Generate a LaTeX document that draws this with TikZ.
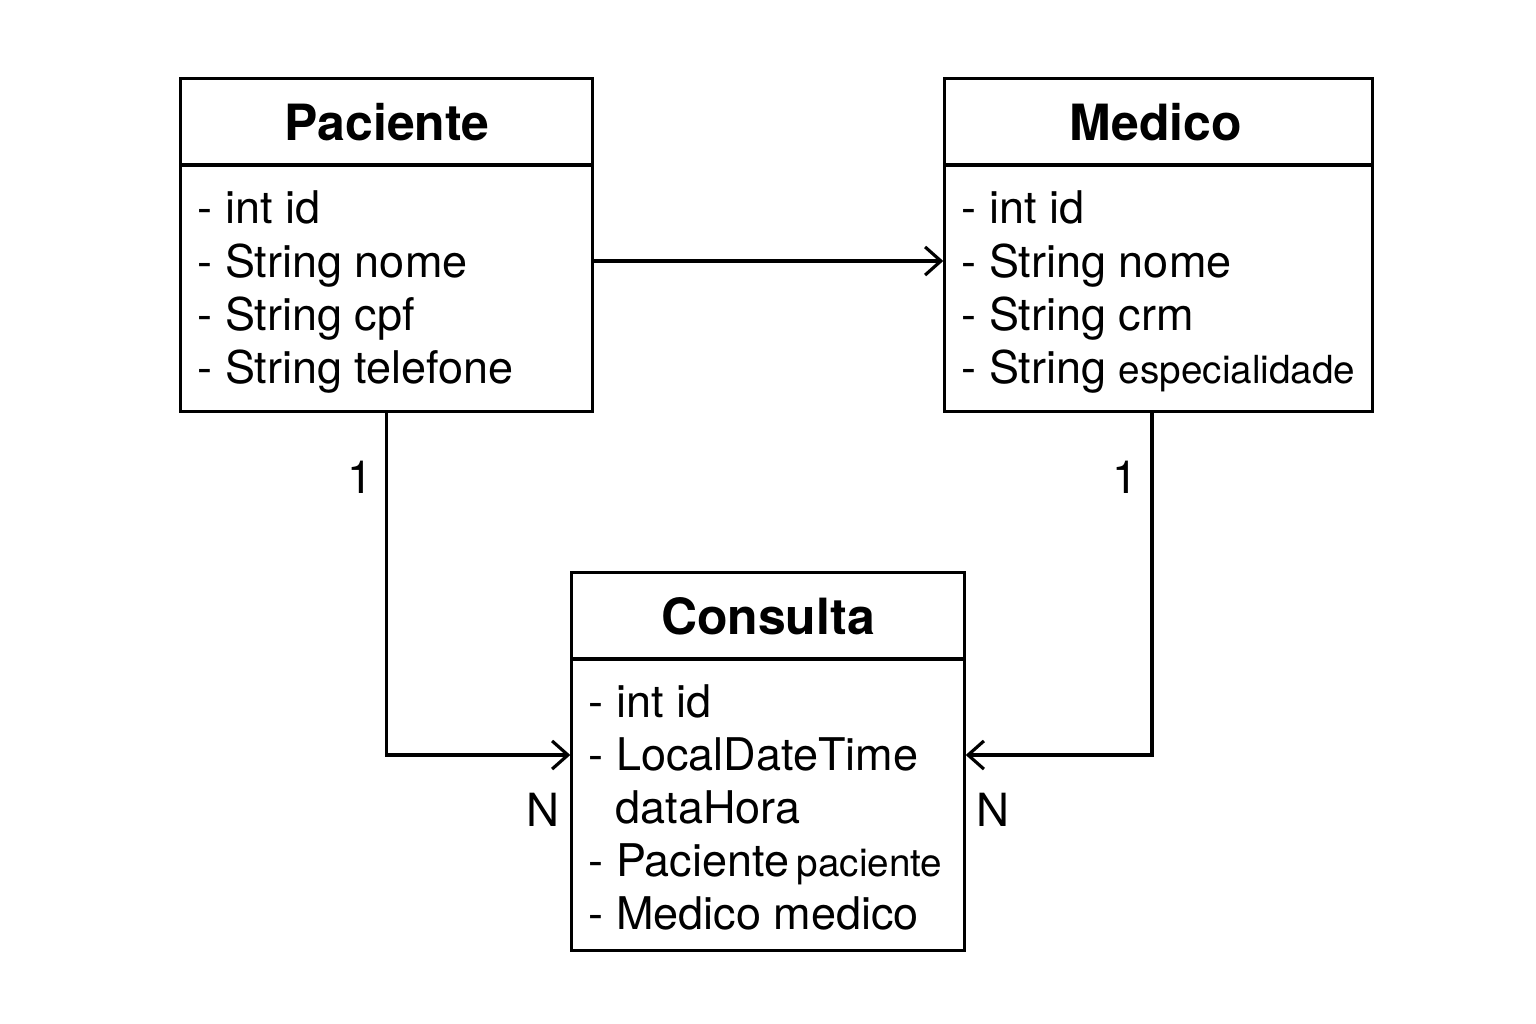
\documentclass[tikz,border=0pt]{standalone}
\usepackage{fontspec}
\setmainfont{TeX Gyre Heros}
\usetikzlibrary{arrows.meta}
\tikzset{
    classbox/.style={draw,line width=0.9pt,inner sep=0pt},
    title/.style={font=\fontsize{14.2}{17}\selectfont\bfseries,anchor=base},
    attr/.style={font=\fontsize{12.8}{15}\selectfont,anchor=base west,inner sep=0pt},
    mult/.style={font=\fontsize{13}{15}\selectfont,inner sep=0pt},
}
\newcommand{\smalltype}[1]{{\fontsize{11}{13}\selectfont #1}}
\begin{document}
\begin{tikzpicture}[x=0.01cm,y=-0.01cm,line width=0.9pt,>={Straight Barb[length=4.5pt,width=8pt]}]
        \useasboundingbox (0,0) rectangle (1536,1024);
        \begin{scope}
            \node[classbox,minimum width=4.11cm,minimum height=3.32cm] (pac) at (386.5,245) {};
            \node[classbox,minimum width=4.27cm,minimum height=3.32cm] (med) at (1158.5,245) {};
            \node[classbox,minimum width=3.92cm,minimum height=3.77cm] (con) at (768,761.5) {};
            \coordinate (h1) at (0,165);
            \coordinate (h2) at (0,659);
            \draw (pac.west |- h1) -- (pac.east |- h1);
            \draw (med.west |- h1) -- (med.east |- h1);
            \draw (con.west |- h2) -- (con.east |- h2);
        \end{scope}
        \begin{scope}
            \node[title] (pact) at (387,140) {Paciente};
            \node[title] (medt) at (1156,140) {Medico};
            \node[title] (cont) at (768,634) {Consulta};
        \end{scope}
        \begin{scope}
            \node[attr] (pac1) at (196,223) {- int id};
            \node[attr] (pac2) at (196,277) {- String nome};
            \node[attr] (pac3) at (196,330) {- String cpf};
            \node[attr] (pac4) at (196,383) {- String telefone};
            \node[attr] (med1) at (960,223) {- int id};
            \node[attr] (med2) at (960,277) {- String nome};
            \node[attr] (med3) at (960,330) {- String crm};
            \node[attr] (med4) at (960,383) {- String \smalltype{especialidade}};
            \node[attr] (con1) at (587,717) {- int id};
            \node[attr] (con2) at (587,770) {- LocalDateTime};
            \node[attr] (con3) at (614,823) {dataHora};
            \node[attr] (con4) at (587,876) {- Paciente\,\smalltype{paciente}};
            \node[attr] (con5) at (587,929) {- Medico medico};
        \end{scope}
        \begin{scope}
            \coordinate (r1) at (0,261);
            \coordinate (r2) at (0,755);
            \draw[->] (pac.east |- r1) -- (med.west |- r1);
            \draw[->] (pac.south) -- (pac.south |- r2) -- (con.west |- r2);
            \draw[->] ([xshift=-0.065cm]med.south) -- ([xshift=-0.065cm]med.south |- r2) -- (con.east |- r2);
            \node[mult] (m1) at (360,477) {1};
            \node[mult] (m2) at (1125,477) {1};
            \node[mult] (n1) at (543,810) {N};
            \node[mult] (n2) at (993,810) {N};
        \end{scope}
    \end{tikzpicture}
\end{document}
